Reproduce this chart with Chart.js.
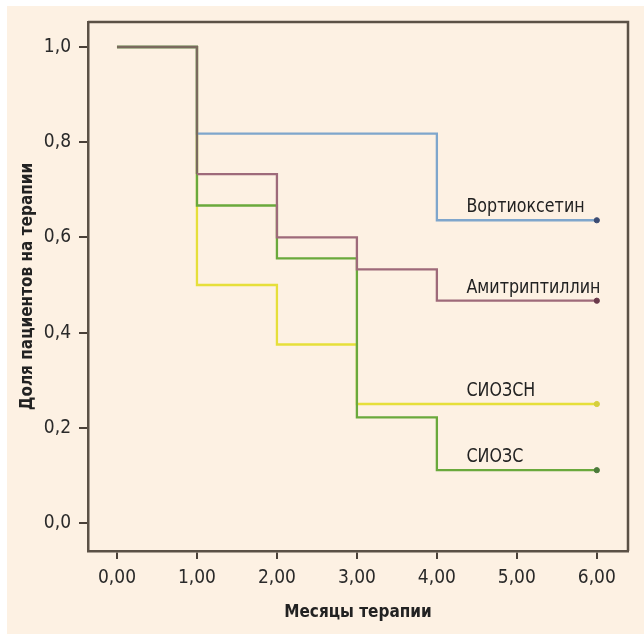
<!DOCTYPE html>
<html>
<head>
<meta charset="utf-8">
<script src="https://cdn.jsdelivr.net/npm/chart.js@4/dist/chart.umd.min.js"></script>
<style>
  body { margin: 0; background: #ffffff; }
  #wrap { width: 644px; height: 634px; position: relative; }
</style>
</head>
<body>
<div id="wrap"><canvas id="mycanvas"></canvas></div>
<script>
// survival curves (Kaplan-Meier steps)
var seriesNames = ['Вортиоксетин', 'Амитриптиллин', 'СИОЗСН', 'СИОЗС'];
var vortTime = [0, 1, 4, 6];
var vortSurv = [1.0, 0.818, 0.636, 0.636];
var amiTime = [0, 1, 2, 3, 4, 6];
var amiSurv = [1.0, 0.733, 0.600, 0.533, 0.467, 0.467];
var snriTime = [0, 1, 2, 3, 6];
var snriSurv = [1.0, 0.500, 0.375, 0.250, 0.250];
var ssriTime = [0, 1, 2, 3, 4, 6];
var ssriSurv = [1.0, 0.667, 0.556, 0.222, 0.111, 0.111];
var xTicks = [0, 1, 2, 3, 4, 5, 6];
var yTicks = [0, 0.2, 0.4, 0.6, 0.8, 1.0];

var FONT = "'DejaVu Sans Condensed', 'Liberation Sans Narrow', 'Roboto Condensed', sans-serif";

function toPoints(t, s) {
	var pts = [];
	for (var i in t) {
		pts.push({x: t[i], y: s[i]});
	}
	return pts;
}

function lastOnly(n, r) {
	var arr = [];
	for (var i = 0; i < n; i++) arr.push(i == n - 1 ? r : 0);
	return arr;
}

function makeSet(name, t, s, color, mark) {
	return {
		label: name,
		data: toPoints(t, s),
		stepped: true,
		borderColor: color,
		borderWidth: 2.3,
		pointRadius: lastOnly(t.length, 2.6),
		pointBackgroundColor: mark,
		pointBorderColor: mark,
		pointBorderWidth: 1,
		fill: false
	};
}

var amiSet = makeSet(seriesNames[1], amiTime, amiSurv, '#9e6a7a', '#6a3a4c');
// where all four curves overlap the line looks dark
amiSet.segment = {
	borderColor: function(c) { return c.p0DataIndex == 0 ? '#7a6a5e' : undefined; }
};

var chartdata = {
	datasets: [
		amiSet,
		makeSet(seriesNames[0], vortTime, vortSurv, '#7fa6cc', '#3b4b72'),
		makeSet(seriesNames[3], ssriTime, ssriSurv, '#6aa93c', '#4b7a3a'),
		makeSet(seriesNames[2], snriTime, snriSurv, '#e6df3a', '#d6cf3c')
	]
};

var bgPlugin = {
	id: 'bg',
	beforeDraw: function(chart) {
		var ctx = chart.ctx;
		ctx.save();
		ctx.fillStyle = '#ffffff';
		ctx.fillRect(0, 0, chart.width, chart.height);
		ctx.fillStyle = '#fdf1e3';
		ctx.fillRect(7, 6, chart.width - 7, chart.height - 6);
		ctx.restore();
	},
	afterDraw: function(chart) {
		var ctx = chart.ctx;
		var a = chart.chartArea;
		ctx.save();
		ctx.strokeStyle = '#5b5146';
		ctx.lineWidth = 2.5;
		ctx.beginPath();
		ctx.moveTo(a.left, a.top);
		ctx.lineTo(a.right, a.top);
		ctx.lineTo(a.right, a.bottom);
		ctx.stroke();
		// curve names next to their last step
		var xs = chart.scales.x, ys = chart.scales.y;
		ctx.fillStyle = '#222222';
		ctx.font = '19px ' + FONT;
		ctx.textAlign = 'left';
		ctx.textBaseline = 'alphabetic';
		chart.data.datasets.forEach(function(ds) {
			var last = ds.data[ds.data.length - 1];
			var px = xs.getPixelForValue(4.37), py = ys.getPixelForValue(last.y) - 8;
			ctx.save();
			ctx.translate(px, py);
			ctx.scale(0.93, 1);
			ctx.fillText(ds.label, 0, 0);
			ctx.restore();
		});
		ctx.restore();
	}
};

var ctx = document.getElementById('mycanvas');

var kmChart = new Chart(ctx, {
	type: 'line',
	data: chartdata,
	plugins: [bgPlugin],
	options: {
		responsive: true,
		maintainAspectRatio: false,
		animation: false,
		layout: { padding: { top: 22, right: 16, left: 0, bottom: 0 } },
		plugins: {
			legend: { display: false },
			tooltip: { enabled: false }
		},
		scales: {
			x: {
				type: 'linear',
				min: -0.3625,
				max: 6.39,
				afterBuildTicks: function(scale) {
					scale.ticks = xTicks.map(function(v) { return {value: v}; });
				},
				afterFit: function(scale) { scale.height = 83; },
				grid: { drawOnChartArea: false, tickLength: 8, tickColor: '#4a4038', lineWidth: 2 },
				border: { display: true, color: '#5b5146', width: 2.5 },
				ticks: {
					color: '#2a2a2a',
					font: { family: FONT, size: 19 },
					padding: 8,
					maxRotation: 0,
					callback: function(v) { return v.toFixed(2).replace('.', ','); }
				},
				title: {
					display: true,
					text: 'Месяцы терапии',
					color: '#222222',
					font: { family: FONT, size: 17, weight: 'bold' },
					padding: { top: 0, bottom: 11 }
				}
			},
			y: {
				type: 'linear',
				min: -0.0588,
				max: 1.0525,
				afterBuildTicks: function(scale) {
					scale.ticks = yTicks.map(function(v) { return {value: v}; });
				},
				afterFit: function(scale) { scale.width = 88; },
				grid: { drawOnChartArea: false, tickLength: 9, tickColor: '#4a4038', lineWidth: 2 },
				border: { display: true, color: '#5b5146', width: 2.5 },
				ticks: {
					color: '#2a2a2a',
					font: { family: FONT, size: 19 },
					padding: 8,
					callback: function(v) { return v.toFixed(1).replace('.', ','); }
				},
				title: {
					display: true,
					text: 'Доля пациентов на терапии',
					color: '#222222',
					font: { family: FONT, size: 17, weight: 'bold' },
					padding: { top: 17, bottom: 0 }
				}
			}
		}
	}
});
</script>
</body>
</html>
